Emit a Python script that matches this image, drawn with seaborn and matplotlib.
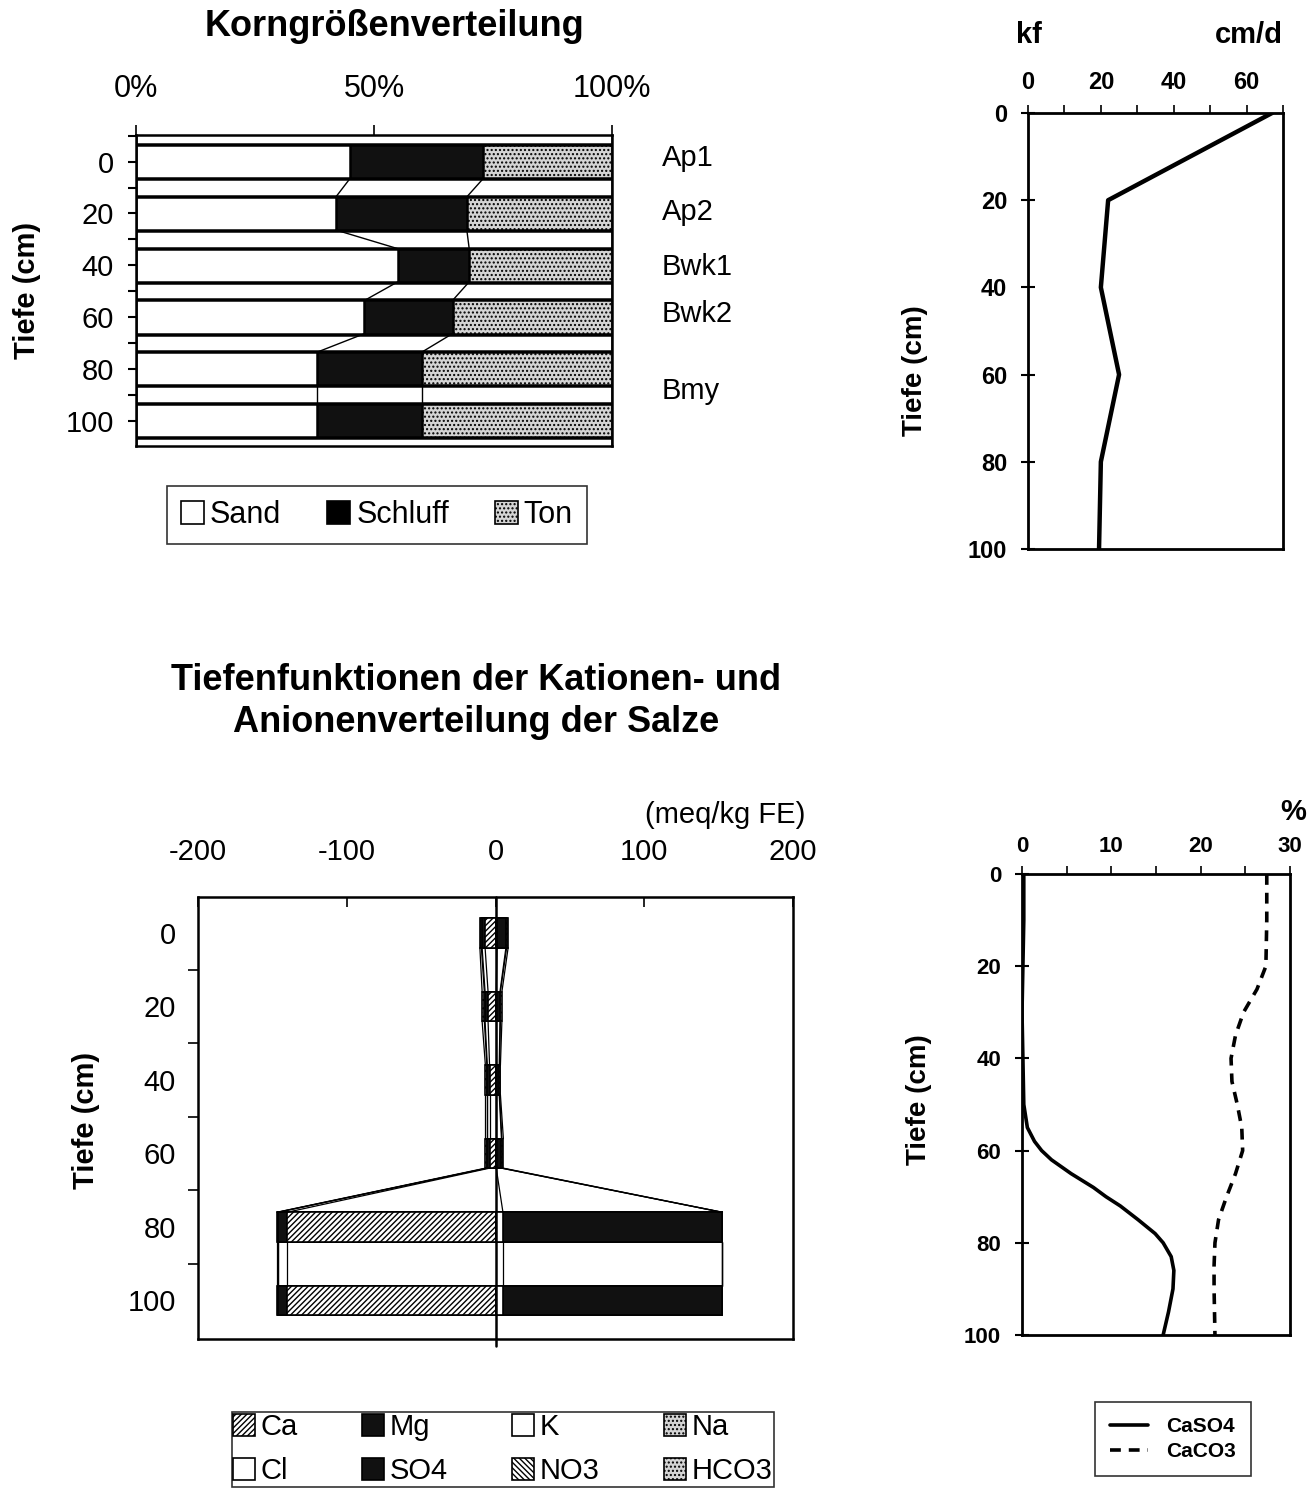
import numpy as np
import seaborn as sns
import matplotlib.pyplot as plt
from matplotlib.patches import Patch
from matplotlib.lines import Line2D
from matplotlib.ticker import MultipleLocator, FixedLocator

# Korngroessenverteilung (%)
tiefe = [0, 20, 40, 60, 80, 100]
sand = [45, 42, 55, 48, 38, 38]
schluff = [28, 27.5, 15, 18.5, 22, 22]
ton = [27, 30.5, 30, 33.5, 40, 40]
zwischen = [-10, 10, 30, 50, 70, 90, 110]
horizonte = ["Ap1", "Ap2", "Bwk1", "Bwk2", "Bmy"]
horizont_tiefe = [-1.5, 19.5, 40.5, 59, 88.5]

# kf (cm/d)
kf_tiefe = [0, 20, 40, 60, 80, 100]
kf = [67, 22, 20, 25, 20, 19.5]

# Salze (meq/kg FE): Kationen links (negativ), Anionen rechts
ca = [-7, -5, -4, -4, -140, -140]
mg = [-2, -2, -1.5, -1.5, -6, -6]
k = [-0.5, -0.5, -0.3, -0.3, -0.5, -0.5]
na = [-1, -1.5, -1, -1, -0.5, -0.5]
cl = [1, 0.5, 0.5, 0.5, 5, 5]
so4 = [6, 2.5, 2, 3.5, 147, 147]
no3 = [0.5, 0.3, 0.3, 0.3, 0.3, 0.3]
hco3 = [1, 1, 0.5, 1, 0.3, 0.3]

# CaSO4 / CaCO3 (%)
caso4_tiefe = [0, 10, 20, 30, 40, 50, 55, 58, 60, 62, 65, 68, 70, 72, 75, 78, 80, 83, 86, 90, 95, 100]
caso4 = [0.2, 0.2, 0.1, 0.0, 0.1, 0.2, 0.6, 1.4, 2.2, 3.3, 5.5, 8.0, 9.4, 11.0, 13.0, 14.9, 15.8, 16.7, 17.0, 16.9, 16.4, 15.8]
caco3_tiefe = [0, 10, 20, 25, 30, 35, 40, 45, 50, 55, 60, 65, 70, 75, 80, 85, 90, 100]
caco3 = [27.4, 27.4, 27.3, 26.3, 24.8, 23.9, 23.4, 23.5, 24.1, 24.6, 24.7, 23.9, 22.9, 22.0, 21.6, 21.5, 21.5, 21.6]

sns.set_theme(style="ticks")
plt.rcParams['font.family'] = ['Liberation Sans', 'DejaVu Sans']
plt.rcParams['hatch.linewidth'] = 1.0
plt.rcParams['axes.linewidth'] = 1.8
plt.rcParams['axes.unicode_minus'] = False
for key in ('text.color', 'axes.labelcolor', 'xtick.color', 'ytick.color', 'axes.edgecolor'):
    plt.rcParams[key] = 'black'

W, H = 1310, 1492
fig = plt.figure(figsize=(W / 100, H / 100), dpi=100)
fig.patch.set_facecolor('white')

TON_FACE = '#d4d4d4'


def box(l, t, r, b):
    return [l / W, 1 - b / H, (r - l) / W, (b - t) / H]


def style_spines(ax, lw=1.8):
    for s in ax.spines.values():
        s.set_visible(True)
        s.set_color('black')
        s.set_linewidth(lw)


# ---------- Korngroessenverteilung ----------
ax1 = fig.add_axes(box(136, 135, 612, 446))
cum1 = np.array(sand)
cum2 = cum1 + np.array(schluff)
cum3 = cum2 + np.array(ton)
bar_kw = dict(orient='h', native_scale=True, edgecolor='black', linewidth=1.8,
              saturation=1, errorbar=None, ax=ax1)
sns.barplot(x=[100] * len(zwischen), y=zwischen, width=0.32, color='white', **bar_kw)
sns.barplot(x=cum3, y=tiefe, width=0.64, color=TON_FACE, hatch='....', **bar_kw)
sns.barplot(x=cum2, y=tiefe, width=0.64, color='#111111', **bar_kw)
sns.barplot(x=cum1, y=tiefe, width=0.64, color='white', **bar_kw)
hh = 6.4
for cum in (cum1, cum2):
    for i in range(len(tiefe) - 1):
        ax1.plot([cum[i], cum[i + 1]], [tiefe[i] + hh, tiefe[i + 1] - hh],
                 color='black', lw=1.0, zorder=5)
ax1.set_xlim(0, 100)
ax1.set_ylim(109.8, -10.3)
ax1.xaxis.tick_top()
ax1.set_xticks([0, 50, 100])
ax1.set_xticklabels(['0%', '50%', '100%'])
ax1.tick_params(axis='x', direction='out', length=7, width=1.2, pad=15,
                labelsize=22, top=True, bottom=False)
ax1.yaxis.set_major_locator(FixedLocator(tiefe))
ax1.set_yticklabels([str(t) for t in tiefe])
ax1.yaxis.set_minor_locator(FixedLocator([-10, 10, 30, 50, 70, 90]))
ax1.tick_params(axis='y', which='both', direction='inout', length=12, width=1.5,
                labelsize=21, pad=10, left=True)
ax1.set_xlabel('')
ax1.set_ylabel('Tiefe (cm)', fontsize=21, fontweight='bold')
ax1.yaxis.set_label_coords(-0.2, 0.5)
style_spines(ax1)
for name, d in zip(horizonte, horizont_tiefe):
    ax1.text(110.5, d, name, fontsize=21, va='center', ha='left', clip_on=False)
fig.text(394 / W, 1 - 26 / H, 'Korngrößenverteilung', fontsize=26, fontweight='bold',
         ha='center', va='center')
leg1 = fig.legend(handles=[Patch(facecolor='white', edgecolor='black', lw=1.2),
                           Patch(facecolor='black', edgecolor='black', lw=1.2),
                           Patch(facecolor=TON_FACE, edgecolor='black', hatch='....', lw=1.2)],
                  labels=['Sand', 'Schluff', 'Ton'], loc='center',
                  bbox_to_anchor=(377 / W, 1 - 515 / H), ncol=3, fontsize=22,
                  frameon=True, fancybox=False, edgecolor='black', handlelength=0.75,
                  handleheight=0.75, handletextpad=0.2, columnspacing=1.5, borderpad=0.45)
leg1.get_frame().set_linewidth(1.2)

# ---------- kf ----------
ax2 = fig.add_axes(box(1028, 113, 1283, 549))
sns.lineplot(x=kf, y=kf_tiefe, sort=False, estimator=None, color='black', lw=3.2, ax=ax2)
ax2.set_xlim(0, 70)
ax2.set_ylim(100, 0)
ax2.xaxis.tick_top()
ax2.xaxis.set_major_locator(FixedLocator([0, 20, 40, 60]))
ax2.xaxis.set_minor_locator(MultipleLocator(10))
ax2.tick_params(axis='x', which='both', direction='out', length=6, width=1.2, pad=8,
                labelsize=17, top=True, bottom=False)
ax2.set_yticks([0, 20, 40, 60, 80, 100])
ax2.tick_params(axis='y', direction='inout', length=10, width=1.5, pad=10,
                labelsize=17, left=True)
for lab in ax2.get_xticklabels() + ax2.get_yticklabels():
    lab.set_fontweight('bold')
ax2.set_xlabel('')
ax2.set_ylabel('Tiefe (cm)', fontsize=20, fontweight='bold')
ax2.yaxis.set_label_coords(-0.392, 0.41)
style_spines(ax2, 2.0)
fig.text(1029 / W, 1 - 35 / H, 'kf', fontsize=21, fontweight='bold', ha='center', va='center')
fig.text(1283 / W, 1 - 35 / H, 'cm/d', fontsize=21, fontweight='bold', ha='right', va='center')

# ---------- Salze ----------
ax3 = fig.add_axes(box(198, 897, 793, 1339))
neg = np.cumsum([ca, mg, k, na], axis=0)
pos = np.cumsum([cl, so4, no3, hco3], axis=0)
neg_style = [dict(color='white', hatch='//////'), dict(color='#111111'),
             dict(color='white'), dict(color=TON_FACE, hatch='....')]
pos_style = [dict(color='white'), dict(color='#111111'),
             dict(color='white', hatch='\\\\\\\\\\\\'), dict(color=TON_FACE, hatch='....')]
bar_kw3 = dict(orient='h', native_scale=True, edgecolor='black', linewidth=1.2,
               saturation=1, errorbar=None, width=0.4, ax=ax3)
for stack, styles in ((neg, neg_style), (pos, pos_style)):
    for j in range(3, -1, -1):
        sns.barplot(x=stack[j], y=tiefe, **styles[j], **bar_kw3)
hh3 = 4
for stack in (neg, pos):
    for j in range(4):
        for i in range(len(tiefe) - 1):
            ax3.plot([stack[j][i], stack[j][i + 1]], [tiefe[i] + hh3, tiefe[i + 1] - hh3],
                     color='black', lw=0.9, zorder=5)
ax3.axvline(0, ymin=-0.015, ymax=1, color='black', lw=1.8, zorder=6, clip_on=False)
ax3.set_xlim(-200, 200)
ax3.set_ylim(110.5, -9.8)
ax3.xaxis.tick_top()
ax3.set_xticks([-200, -100, 0, 100, 200])
ax3.tick_params(axis='x', direction='in', length=7, width=1.2, pad=22,
                labelsize=21, top=True, bottom=False)
ax3.yaxis.set_major_locator(FixedLocator(tiefe))
ax3.set_yticklabels([str(t) for t in tiefe])
ax3.yaxis.set_minor_locator(FixedLocator([10, 30, 50, 70, 90]))
ax3.tick_params(axis='y', which='major', length=0, pad=16, labelsize=21)
ax3.tick_params(axis='y', which='minor', direction='out', length=7, width=1.2, left=True)
ax3.set_xlabel('')
ax3.set_ylabel('Tiefe (cm)', fontsize=21, fontweight='bold')
ax3.yaxis.set_label_coords(-0.165, 0.495)
style_spines(ax3)
fig.text(476 / W, 1 - 680 / H, 'Tiefenfunktionen der Kationen- und', fontsize=26,
         fontweight='bold', ha='center', va='center')
fig.text(476 / W, 1 - 722 / H, 'Anionenverteilung der Salze', fontsize=26,
         fontweight='bold', ha='center', va='center')
fig.text(725 / W, 1 - 815 / H, '(meq/kg FE)', fontsize=21, ha='center', va='center')


def sw(**kw):
    return Patch(facecolor=kw.get('color', 'white'), edgecolor='black',
                 hatch=kw.get('hatch', None), lw=1.2)


h3 = [sw(**neg_style[0]), sw(**pos_style[0]), sw(**neg_style[1]), sw(**pos_style[1]),
      sw(**neg_style[2]), sw(**pos_style[2]), sw(**neg_style[3]), sw(**pos_style[3])]
l3 = ['Ca', 'Cl', 'Mg', 'SO4', 'K', 'NO3', 'Na', 'HCO3']
leg3 = fig.legend(handles=h3, labels=l3, loc='upper center',
                  bbox_to_anchor=(503 / W, 1 - 1397 / H), ncol=4, fontsize=21,
                  frameon=True, fancybox=False, edgecolor='black', handlelength=0.75,
                  handleheight=0.75, handletextpad=0.2, columnspacing=2.2,
                  labelspacing=0.55, borderpad=0.05)
leg3.get_frame().set_linewidth(1.2)

# ---------- CaSO4 / CaCO3 ----------
ax4 = fig.add_axes(box(1022, 874, 1290, 1335))
sns.lineplot(x=caso4, y=caso4_tiefe, sort=False, estimator=None, color='black',
             lw=2.6, ax=ax4, label='CaSO4')
sns.lineplot(x=caco3, y=caco3_tiefe, sort=False, estimator=None, color='black',
             lw=2.6, ax=ax4, label='CaCO3', dashes=False)
ax4.lines[1].set_linestyle((0, (3, 2.2)))
ax4.set_xlim(0, 30)
ax4.set_ylim(100, 0)
ax4.xaxis.tick_top()
ax4.xaxis.set_major_locator(FixedLocator([0, 10, 20, 30]))
ax4.xaxis.set_minor_locator(MultipleLocator(5))
ax4.tick_params(axis='x', which='both', direction='out', length=6, width=1.2, pad=6,
                labelsize=16, top=True, bottom=False)
ax4.set_yticks([0, 20, 40, 60, 80, 100])
ax4.tick_params(axis='y', direction='inout', length=10, width=1.5, pad=10,
                labelsize=16, left=True)
for lab in ax4.get_xticklabels() + ax4.get_yticklabels():
    lab.set_fontweight('bold')
ax4.set_xlabel('')
ax4.set_ylabel('Tiefe (cm)', fontsize=20, fontweight='bold')
ax4.yaxis.set_label_coords(-0.336, 0.51)
style_spines(ax4, 2.0)
ax4.get_legend().remove()
fig.text(1293 / W, 1 - 812 / H, '%', fontsize=21, fontweight='bold', ha='center', va='center')
leg4 = fig.legend(handles=[Line2D([0], [0], color='black', lw=2.6),
                           Line2D([0], [0], color='black', lw=2.6, ls=(0, (3, 2.2)))],
                  labels=['CaSO4', 'CaCO3'], loc='center',
                  bbox_to_anchor=(1173 / W, 1 - 1439 / H),
                  prop={'weight': 'bold', 'size': 15},
                  frameon=True, fancybox=False, edgecolor='black', handlelength=1.8,
                  handletextpad=0.9, borderpad=0.7, labelspacing=0.3)
leg4.get_frame().set_linewidth(1.2)

fig.savefig('out.png', dpi=100, facecolor='white')
